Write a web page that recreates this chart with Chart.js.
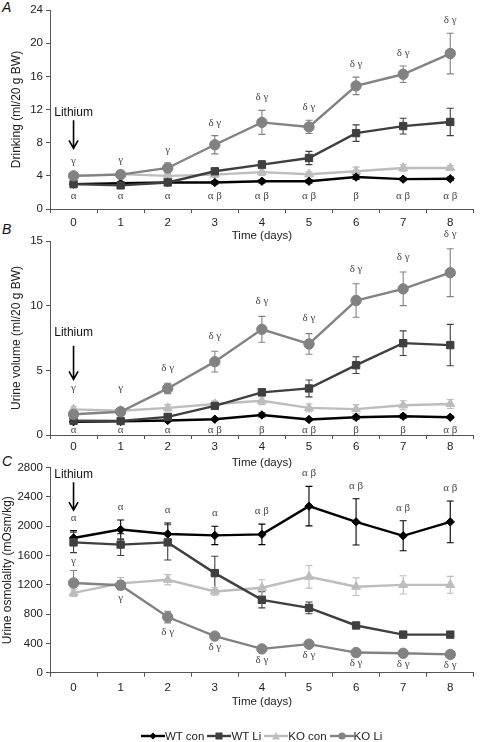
<!DOCTYPE html>
<html>
<head>
<meta charset="utf-8">
<script src="https://cdn.jsdelivr.net/npm/chart.js@4"></script>
<style>
  html, body { margin: 0; padding: 0; background: #fff; }
  body { width: 480px; height: 742px; position: relative; overflow: hidden; font-family: "Liberation Sans", Arial, sans-serif; }
  .panel { position: absolute; left: 0; width: 480px; }
  .letter { position: absolute; font-style: italic; font-size: 14px; color: #111; font-family: "Liberation Sans", Arial, sans-serif; }
  #legend { position: absolute; top: 730px; left: 141px; display: flex; align-items: center; font-size: 11.5px; color: #222; white-space: nowrap; }
  #legend .item { display: flex; align-items: center; margin-right: 3px; }
  #legend svg { display: block; }
</style>
</head>
<body>
<div class="letter" style="left:2px;top:-1px;">A</div>
<div class="letter" style="left:2px;top:221px;">B</div>
<div class="letter" style="left:2px;top:453px;">C</div>

<div class="panel" id="pA" style="top:0px;height:250px;"><canvas id="cA" width="480" height="250"></canvas></div>
<div class="panel" id="pB" style="top:228px;height:252px;"><canvas id="cB" width="480" height="252"></canvas></div>
<div class="panel" id="pC" style="top:452px;height:265px;"><canvas id="cC" width="480" height="265"></canvas></div>

<div id="legend"></div>

<script>
// ---------------- DATA ----------------
const days = ['0', '1', '2', '3', '4', '5', '6', '7', '8'];
const seriesNames = ['WT con', 'WT Li', 'KO con', 'KO Li'];

// Panel A: Drinking (ml/20 g BW)
const drinkWTcon    = [3.0, 3.1, 3.2, 3.2, 3.35, 3.35, 3.85, 3.6, 3.65];
const drinkWTconErr = [0.2, 0.2, 0.2, 0.2, 0.2, 0.2, 0.3, 0.2, 0.2];
const drinkWTli     = [3.0, 2.85, 3.2, 4.55, 5.35, 6.15, 9.15, 10.0, 10.5];
const drinkWTliErr  = [0.3, 0.3, 0.3, 0.3, 0.45, 0.8, 1.0, 0.95, 1.65];
const drinkKOcon    = [4.0, 4.2, 4.0, 4.15, 4.45, 4.2, 4.55, 4.95, 4.95];
const drinkKOconErr = [0.2, 0.2, 0.2, 0.3, 0.4, 0.3, 0.5, 0.4, 0.3];
const drinkKOli     = [4.0, 4.15, 4.95, 7.75, 10.45, 9.9, 14.85, 16.25, 18.75];
const drinkKOliErr  = [0.2, 0.2, 0.6, 1.1, 1.45, 0.8, 1.05, 1.0, 2.45];
const drinkTopLabels    = ['γ', 'γ', 'γ', 'δ γ', 'δ γ', 'δ γ', 'δ γ', 'δ γ', 'δ γ'];
const drinkBottomLabels = ['α', 'α', 'α', 'α β', 'α β', 'α β', 'β', 'α β', 'α β'];
const drinkTicks = [0, 4, 8, 12, 16, 20, 24];

// Panel B: Urine volume (ml/20 g BW)
const urineWTcon    = [1.03, 1.05, 1.12, 1.22, 1.55, 1.2, 1.37, 1.45, 1.37];
const urineWTconErr = [0.1, 0.1, 0.1, 0.1, 0.15, 0.1, 0.15, 0.15, 0.1];
const urineWTli     = [1.1, 1.08, 1.4, 2.25, 3.3, 3.6, 5.4, 7.1, 6.95];
const urineWTliErr  = [0.1, 0.1, 0.15, 0.2, 0.25, 0.65, 0.65, 0.95, 1.6];
const urineKOcon    = [1.98, 1.88, 2.1, 2.4, 2.65, 2.1, 2.0, 2.3, 2.4];
const urineKOconErr = [0.2, 0.2, 0.25, 0.25, 0.3, 0.3, 0.35, 0.35, 0.35];
const urineKOli     = [1.6, 1.8, 3.6, 5.67, 8.17, 7.04, 10.4, 11.3, 12.55];
const urineKOliErr  = [0.15, 0.15, 0.4, 0.8, 1.0, 0.8, 1.3, 1.3, 1.85];
const urineTopLabels    = ['γ', 'γ', 'δ γ', 'δ γ', 'δ γ', 'δ γ', 'δ γ', 'δ γ', 'δ γ'];
const urineBottomLabels = ['α', 'α', 'α', 'α β', 'β', 'α β', 'β', 'β', 'α β'];
const urineTicks = [0, 5, 10, 15];

// Panel C: Urine osmolality (mOsm/kg)
const osmWTcon    = [1840, 1955, 1895, 1875, 1890, 2275, 2060, 1870, 2060];
const osmWTconErr = [100, 130, 150, 125, 140, 270, 315, 205, 285];
const osmWTli     = [1780, 1750, 1780, 1360, 995, 885, 645, 520, 520];
const osmWTliErr  = [140, 150, 240, 230, 110, 80, 40, 30, 40];
const osmKOcon    = [1090, 1220, 1270, 1110, 1160, 1310, 1175, 1200, 1200];
const osmKOconErr = [50, 80, 70, 50, 110, 155, 120, 125, 115];
const osmKOli     = [1225, 1195, 760, 500, 325, 390, 275, 265, 250];
const osmKOliErr  = [170, 60, 80, 30, 25, 20, 20, 20, 20];
const osmTopLabels     = ['α', 'α', 'α', 'α', 'α β', 'α β', 'α β', 'α β', 'α β'];
const osmKOaboveLabels = ['γ', '', '', '', '', '', '', '', ''];
const osmKObelowLabels = ['', 'γ', 'δ γ', 'δ γ', 'δ γ', 'δ γ', 'δ γ', 'δ γ', 'δ γ'];
const osmTicks = [0, 400, 800, 1200, 1600, 2000, 2400, 2800];

// ---------------- STYLE ----------------
const colWTcon = '#000000', colWTli = '#3f3f3f', colKOcon = '#bdbdbd', colKOli = '#828282';
const styles = [
  { color: colWTcon, pointStyle: 'rectRot', radius: 4.2, order: 3 },
  { color: colWTli,  pointStyle: 'rect',    radius: 5.2, order: 2 },
  { color: colKOcon, pointStyle: 'triangle',radius: 5.2, order: 4 },
  { color: colKOli,  pointStyle: 'circle',  radius: 5.2, order: 1 }
];
const FONT = '"Liberation Sans", Arial, sans-serif';

function makeDatasets(vals, errs) {
  return vals.map((v, i) => ({
    label: seriesNames[i],
    data: v,
    errors: errs[i],
    borderColor: styles[i].color,
    backgroundColor: styles[i].color,
    pointBackgroundColor: styles[i].color,
    pointBorderColor: styles[i].color,
    pointStyle: styles[i].pointStyle,
    pointRadius: styles[i].radius,
    pointBorderWidth: 1,
    borderWidth: 2.4,
    tension: 0,
    order: styles[i].order,
    clip: false
  }));
}

// ---------------- PLUGINS ----------------
const errorBars = {
  id: 'errorBars',
  beforeDatasetsDraw(chart) {
    const ctx = chart.ctx, y = chart.scales.y;
    chart.data.datasets.forEach((ds, i) => {
      const meta = chart.getDatasetMeta(i);
      ctx.save();
      ctx.strokeStyle = ds.borderColor;
      ctx.lineWidth = 1.1;
      meta.data.forEach((pt, j) => {
        const v = ds.data[j], e = ds.errors[j];
        const top = y.getPixelForValue(v + e), bot = y.getPixelForValue(v - e);
        ctx.beginPath();
        ctx.moveTo(pt.x, top); ctx.lineTo(pt.x, bot);
        ctx.moveTo(pt.x - 3.5, top); ctx.lineTo(pt.x + 3.5, top);
        ctx.moveTo(pt.x - 3.5, bot); ctx.lineTo(pt.x + 3.5, bot);
        ctx.stroke();
      });
      ctx.restore();
    });
  }
};

const sigLabels = {
  id: 'sigLabels',
  afterDatasetsDraw(chart, args, opts) {
    const ctx = chart.ctx, y = chart.scales.y, area = chart.chartArea;
    ctx.save();
    ctx.font = '11px "Liberation Serif", "Times New Roman", serif';
    ctx.fillStyle = '#4a4a4a';
    ctx.textAlign = 'center';
    ctx.textBaseline = 'middle';
    (opts.items || []).forEach(item => {
      item.labels.forEach((txt, j) => {
        if (!txt) return;
        const x = chart.scales.x.getPixelForValue(j);
        let py;
        if (item.side === 'fixed') {
          py = area.bottom - item.gap;
        } else {
          const ds = chart.data.datasets[item.anchor];
          const v = ds.data[j], e = ds.errors[j];
          if (item.side === 'above') {
            py = y.getPixelForValue(v + e) - item.gap;
            if (item.floor) py = Math.min(py, area.bottom - item.floor);
          } else {
            py = y.getPixelForValue(v - e) + item.gap;
          }
        }
        ctx.fillText(txt, x, py);
      });
    });
    ctx.restore();
  }
};

const lithium = {
  id: 'lithium',
  afterDatasetsDraw(chart, args, opts) {
    if (!opts || opts.text === undefined) return;
    const ctx = chart.ctx, y = chart.scales.y;
    const x = chart.scales.x.getPixelForValue(0);
    const yt = y.getPixelForValue(opts.text), y1 = y.getPixelForValue(opts.from), y2 = y.getPixelForValue(opts.to);
    ctx.save();
    ctx.fillStyle = '#111';
    ctx.font = '12px ' + FONT;
    ctx.textAlign = 'center';
    ctx.textBaseline = 'middle';
    ctx.fillText('Lithium', x, yt);
    ctx.strokeStyle = '#000';
    ctx.lineWidth = 1.6;
    ctx.beginPath();
    ctx.moveTo(x, y1); ctx.lineTo(x, y2 - 1);
    ctx.moveTo(x - 4.5, y2 - 8); ctx.lineTo(x, y2); ctx.lineTo(x + 4.5, y2 - 8);
    ctx.stroke();
    ctx.restore();
  }
};

// ---------------- CHART FACTORY ----------------
function buildChart(canvasId, cfg) {
  const H = cfg.height;
  const titleLH = 11.5 * 1.2;
  const xHeight = cfg.titleCenter + 4 + titleLH / 2 - cfg.chartBottom;
  const padBottom = H - cfg.chartBottom - xHeight;
  return new Chart(document.getElementById(canvasId), {
    type: 'line',
    data: { labels: days, datasets: makeDatasets(cfg.values, cfg.errors) },
    plugins: [errorBars, sigLabels, lithium],
    options: {
      responsive: false,
      animation: false,
      devicePixelRatio: 1,
      layout: { padding: { top: cfg.chartTop, bottom: padBottom, left: 0, right: 0 } },
      plugins: {
        legend: { display: false },
        tooltip: { enabled: false },
        sigLabels: { items: cfg.labelItems },
        lithium: cfg.lithium
      },
      scales: {
        x: {
          type: 'category',
          offset: true,
          grid: { display: true, drawOnChartArea: false, drawTicks: true, tickLength: 4, offset: true, color: '#555', lineWidth: 1 },
          border: { display: true, color: '#555', width: 1 },
          ticks: { color: '#222', font: { family: FONT, size: 11.5 }, padding: cfg.xPad, maxRotation: 0, autoSkip: false },
          title: { display: true, text: 'Time (days)', color: '#222', font: { family: FONT, size: 11.5 }, padding: { top: 0, bottom: 4 } },
          afterFit: s => { s.height = xHeight; }
        },
        y: {
          type: 'linear',
          min: cfg.ticks[0],
          max: cfg.ticks[cfg.ticks.length - 1],
          afterBuildTicks: s => { s.ticks = cfg.ticks.map(v => ({ value: v })); },
          grid: { display: true, drawOnChartArea: false, drawTicks: true, tickLength: 4, color: '#555', lineWidth: 1 },
          border: { display: true, color: '#555', width: 1 },
          ticks: { color: '#222', font: { family: FONT, size: 11.5 }, padding: 3, callback: v => String(v) },
          title: { display: true, text: cfg.yTitle, color: '#222', font: { family: FONT, size: 12 }, padding: { top: cfg.yTitlePad, bottom: 0 } },
          afterFit: s => { s.width = 50; }
        }
      }
    }
  });
}

buildChart('cA', {
  height: 250, chartTop: 10, chartBottom: 209, titleCenter: 236, xPad: 3, yTitlePad: 9,
  values: [drinkWTcon, drinkWTli, drinkKOcon, drinkKOli],
  errors: [drinkWTconErr, drinkWTliErr, drinkKOconErr, drinkKOliErr],
  ticks: drinkTicks,
  yTitle: 'Drinking (ml/20 g BW)',
  labelItems: [
    { labels: drinkTopLabels, anchor: 3, side: 'above', gap: 13 },
    { labels: drinkBottomLabels, side: 'fixed', gap: 13 }
  ],
  lithium: { text: 11.6, from: 10.7, to: 7.3 }
});

buildChart('cB', {
  height: 252, chartTop: 13, chartBottom: 207, titleCenter: 235, xPad: 1, yTitlePad: 9,
  values: [urineWTcon, urineWTli, urineKOcon, urineKOli],
  errors: [urineWTconErr, urineWTliErr, urineKOconErr, urineKOliErr],
  ticks: urineTicks,
  yTitle: 'Urine volume (ml/20 g BW)',
  labelItems: [
    { labels: urineTopLabels, anchor: 3, side: 'above', gap: 15, floor: 47 },
    { labels: urineBottomLabels, side: 'fixed', gap: 5 }
  ],
  lithium: { text: 7.9, from: 6.9, to: 4.3 }
});

buildChart('cC', {
  height: 265, chartTop: 15.7, chartBottom: 220.7, titleCenter: 250, xPad: 4, yTitlePad: 0,
  values: [osmWTcon, osmWTli, osmKOcon, osmKOli],
  errors: [osmWTconErr, osmWTliErr, osmKOconErr, osmKOliErr],
  ticks: osmTicks,
  yTitle: 'Urine osmolality (mOsm/kg)',
  labelItems: [
    { labels: osmTopLabels, anchor: 0, side: 'above', gap: 13 },
    { labels: osmKOaboveLabels, anchor: 3, side: 'above', gap: 9 },
    { labels: osmKObelowLabels, anchor: 3, side: 'below', gap: 9 }
  ],
  lithium: { text: 2700, from: 2600, to: 2220 }
});

// ---------------- LEGEND ----------------
function markerSvg(st) {
  const c = st.color;
  let m = '';
  if (st.pointStyle === 'rectRot') m = `<polygon points="12,1.5 15.5,5 12,8.5 8.5,5" fill="${c}"/>`;
  else if (st.pointStyle === 'rect') m = `<rect x="8.5" y="1.5" width="7" height="7" fill="${c}"/>`;
  else if (st.pointStyle === 'triangle') m = `<polygon points="12,1 16,8.5 8,8.5" fill="${c}"/>`;
  else m = `<circle cx="12" cy="5" r="3.6" fill="${c}"/>`;
  return `<svg width="24" height="10" viewBox="0 0 24 10"><line x1="0" y1="5" x2="24" y2="5" stroke="${c}" stroke-width="2.4"/>${m}</svg>`;
}
const legendEl = document.getElementById('legend');
seriesNames.forEach((name, i) => {
  const it = document.createElement('div');
  it.className = 'item';
  it.innerHTML = markerSvg(styles[i]) + `<span>${name}</span>`;
  legendEl.appendChild(it);
});
</script>
</body>
</html>
